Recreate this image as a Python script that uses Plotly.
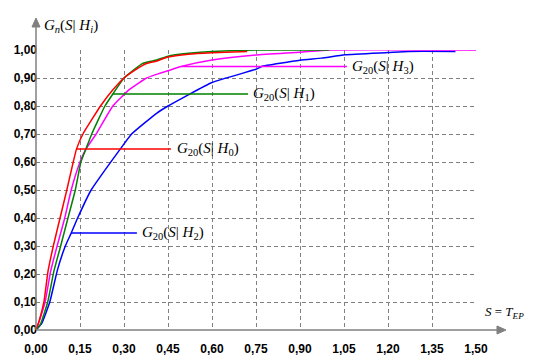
import plotly.graph_objects as go

# ---- data ----
s_h0 = [0, 0.01, 0.027, 0.041, 0.059, 0.082, 0.105, 0.127, 0.138, 0.16, 0.22, 0.26, 0.30, 0.34, 0.377, 0.41, 0.45, 0.52, 0.60, 0.72]
g_h0 = [0, 0.03, 0.10, 0.21, 0.30, 0.40, 0.50, 0.60, 0.646, 0.70, 0.80, 0.855, 0.90, 0.93, 0.952, 0.960, 0.975, 0.985, 0.990, 0.995]

s_h1 = [0, 0.015, 0.040, 0.061, 0.084, 0.109, 0.134, 0.153, 0.170, 0.190, 0.235, 0.262, 0.300, 0.364, 0.411, 0.45, 0.52, 0.60, 0.75, 1.00]
g_h1 = [0, 0.02, 0.10, 0.21, 0.30, 0.40, 0.50, 0.60, 0.646, 0.70, 0.80, 0.843, 0.90, 0.952, 0.964, 0.978, 0.988, 0.995, 1.0, 1.0]

s_h2 = [0, 0.02, 0.047, 0.073, 0.100, 0.120, 0.142, 0.188, 0.235, 0.287, 0.326, 0.411, 0.45, 0.60, 0.75, 0.769, 0.90, 0.974, 1.053, 1.20, 1.27, 1.43]
g_h2 = [0, 0.025, 0.10, 0.214, 0.30, 0.346, 0.40, 0.50, 0.571, 0.646, 0.70, 0.774, 0.80, 0.884, 0.931, 0.941, 0.963, 0.971, 0.983, 0.991, 0.995, 0.995]

s_h3 = [0, 0.012, 0.031, 0.050, 0.072, 0.098, 0.120, 0.150, 0.170, 0.205, 0.262, 0.320, 0.377, 0.411, 0.45, 0.495, 0.60, 0.75, 0.90, 1.00, 1.50]
g_h3 = [0, 0.035, 0.10, 0.21, 0.30, 0.40, 0.50, 0.60, 0.646, 0.70, 0.80, 0.86, 0.90, 0.913, 0.926, 0.941, 0.964, 0.982, 0.992, 1.0, 1.0]

# label leader lines: (start s, end s, level), and label start s
lead_start = [0.138, 0.262, 0.120, 0.495]
lead_end = [0.460, 0.723, 0.344, 1.060]
lead_level = [0.646, 0.843, 0.346, 0.941]
label_s = [0.474, 0.732, 0.356, 1.070]
label_idx = ["0", "1", "2", "3"]

x_ticks = [0.0, 0.15, 0.30, 0.45, 0.60, 0.75, 0.90, 1.05, 1.20, 1.35, 1.50]
y_ticks = [0.0, 0.1, 0.2, 0.3, 0.4, 0.5, 0.6, 0.7, 0.8, 0.9, 1.0]
x_ticktext = ["0,00", "0,15", "0,30", "0,45", "0,60", "0,75", "0,90", "1,05", "1,20", "1,35", "1,50"]
y_ticktext = ["0,00", "0,10", "0,20", "0,30", "0,40", "0,50", "0,60", "0,70", "0,80", "0,90", "1,00"]

colors = ["#ff0000", "#008000", "#0000ff", "#ff00ff"]
series = [(s_h0, g_h0), (s_h1, g_h1), (s_h2, g_h2), (s_h3, g_h3)]

fig = go.Figure()
# draw order: blue, magenta, green, red on top
for i in [2, 3, 1, 0]:
    sx, gy = series[i]
    fig.add_trace(go.Scatter(x=sx, y=gy, mode="lines",
                             line=dict(color=colors[i], width=1.5, shape="spline", smoothing=0.4),
                             hoverinfo="skip", showlegend=False, cliponaxis=False))

for i in range(4):
    fig.add_trace(go.Scatter(x=[lead_start[i], lead_end[i]], y=[lead_level[i], lead_level[i]],
                             mode="lines", line=dict(color=colors[i], width=1.5),
                             hoverinfo="skip", showlegend=False, cliponaxis=False))
    fig.add_annotation(x=label_s[i], y=lead_level[i], xref="x", yref="y",
                       text="<i>G</i><sub>20</sub>(<i>S</i>| <i>H</i><sub>%s</sub>)" % label_idx[i],
                       showarrow=False, xanchor="left", yanchor="middle",
                       font=dict(family="Liberation Serif", size=15, color="black"))

L, R, T, B = 36, 64, 50, 30
W, H = 540, 360
pw, ph = W - L - R, H - T - B

def px(p):
    return (p - L) / pw

def py(p):
    return (H - B - p) / ph

axis_col = "#808080"
shapes = [
    dict(type="line", xref="paper", yref="paper", x0=0, y0=0, x1=px(499), y1=0,
         line=dict(color=axis_col, width=1.5)),
    dict(type="path", xref="paper", yref="paper",
         path="M %f %f L %f %f L %f %f Z" % (px(506), py(330), px(497), py(326), px(497), py(334)),
         fillcolor=axis_col, line=dict(color=axis_col, width=1)),
    dict(type="line", xref="paper", yref="paper", x0=0, y0=0, x1=0, y1=py(26),
         line=dict(color=axis_col, width=1.5)),
    dict(type="path", xref="paper", yref="paper",
         path="M %f %f L %f %f L %f %f Z" % (px(36), py(18), px(32), py(27), px(40), py(27)),
         fillcolor=axis_col, line=dict(color=axis_col, width=1)),
]

fig.add_annotation(xref="paper", yref="paper", x=px(42), y=py(26), xanchor="left", yanchor="middle",
                   text="<i>G</i><sub><i>n</i></sub>(<i>S</i>| <i>H</i><sub><i>i</i></sub>)",
                   showarrow=False, font=dict(family="Liberation Serif", size=15, color="black"))
fig.add_annotation(xref="paper", yref="paper", x=px(483), y=py(312), xanchor="left", yanchor="middle",
                   text="<i>S</i> = <i>T</i><sub><i>EP</i></sub>",
                   showarrow=False, font=dict(family="Liberation Serif", size=13, color="black"))

fig.update_layout(
    width=W, height=H,
    margin=dict(l=L, r=R, t=T, b=B, pad=0),
    paper_bgcolor="white", plot_bgcolor="white",
    shapes=shapes,
    xaxis=dict(range=[0, 1.5], tickvals=x_ticks, ticktext=x_ticktext, showgrid=True,
               gridcolor=axis_col, griddash="4px,3px", gridwidth=1, zeroline=False, showline=False,
               ticks="", ticklabelstandoff=10, automargin=False,
               tickfont=dict(family="Liberation Sans", size=12, color="black", weight="bold")),
    yaxis=dict(range=[0, 1.0], tickvals=y_ticks, ticktext=y_ticktext, showgrid=True,
               gridcolor=axis_col, griddash="4px,3px", gridwidth=1, zeroline=False, showline=False,
               ticks="", ticklabelstandoff=-2, automargin=False,
               tickfont=dict(family="Liberation Sans", size=12, color="black", weight="bold")),
)

fig.write_html("out.html", config={"displayModeBar": False},
               post_script="document.body.style.margin='0';")
